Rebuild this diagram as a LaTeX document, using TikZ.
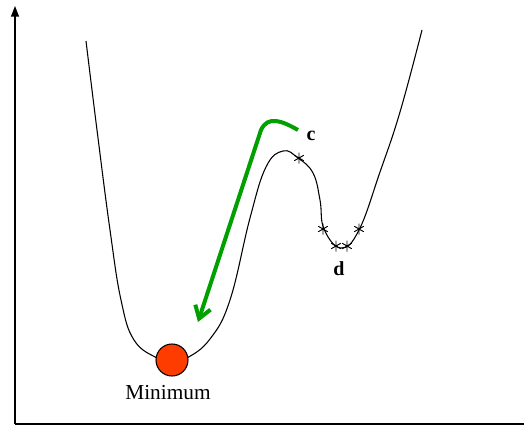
\documentclass[tikz,border=0pt]{standalone}
\usepackage{fontspec}
\setmainfont{Liberation Serif}
\usetikzlibrary{arrows.meta}
\begin{document}
\begin{tikzpicture}[x=0.75pt,y=-0.75pt,
  axis/.style={line width=1pt,-{Triangle[length=8pt,width=6pt]}},
  curve/.style={line width=0.8pt},
  lbl/.style={font=\fontsize{15}{18}\selectfont\bfseries,inner sep=0pt},
  astk/.pic={\draw[line width=0.7pt] (0,-5.5) -- (0,5.5) (-4.8,-2.75) -- (4.8,2.75) (-4.8,2.75) -- (4.8,-2.75);}]
\useasboundingbox (0,0) rectangle (525,428);
\coordinate (o) at (15,424);
\coordinate (ytop) at (15,6);
\coordinate (xr) at (524,424);
\draw[axis] (o) -- (ytop);
\draw[line width=1pt] (o) -- (xr);
\draw[curve] plot[smooth,tension=0.7] coordinates {(86,41) (97,130) (110,230) (121,300) (134,340) (157,358) (172,362) (187,358) (210,339) (230,300) (250,218) (266,167) (283,151) (298,158) (313,173) (320,200) (324,229) (341,248) (359,230) (380,172) (400,112) (422,30)};
\node[circle,draw,fill={rgb,255:red,255;green,60;blue,0},minimum size=32*0.75pt,inner sep=0pt,line width=0.8pt] (min) at (172,360) {};
\foreach \p in {(299,158),(323,229),(336,246),(347,246),(359,229)} \pic at \p {astk};
\node[lbl] (c) at (311,136) {c};
\node[lbl] (d) at (339,269) {d};
\node[font=\fontsize{16}{19}\selectfont] (mt) at (168,393) {Minimum};
\coordinate (g0) at (298,130);
\coordinate (g1) at (198,322);
\draw[color={rgb,255:red,0;green,160;blue,0},line width=3pt,line join=round,-{Straight Barb[length=9pt,width=12pt,line width=3pt]}] (g0) .. controls (282,121) and (268,115) .. (261,130) -- (g1);
\end{tikzpicture}
\end{document}
